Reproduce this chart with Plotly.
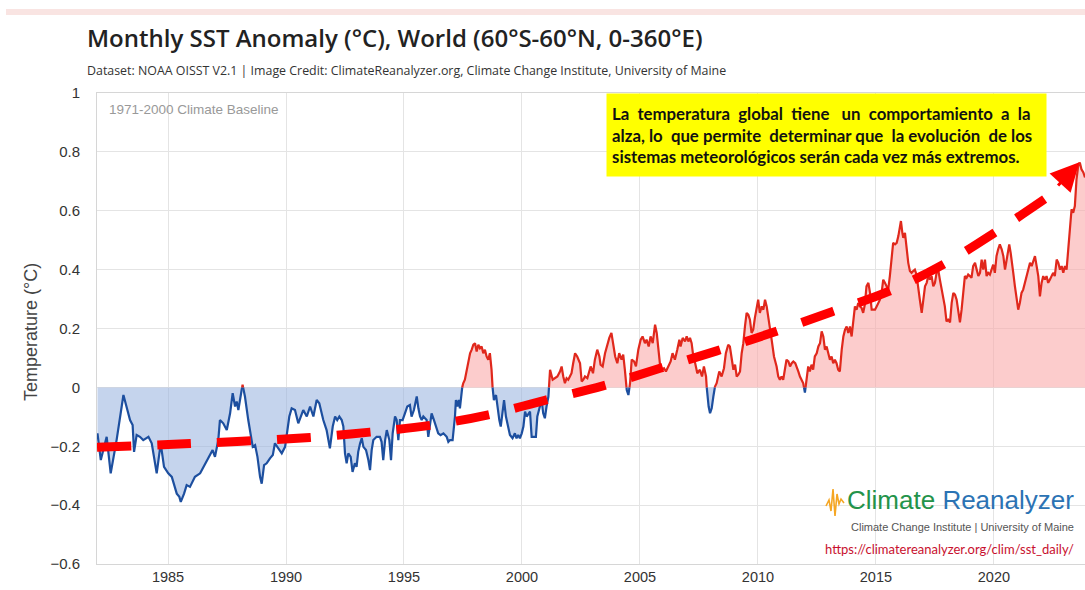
import numpy as np
import plotly.graph_objects as go

# ---------------- data ----------------
years = [
 1982.01,1982.15,1982.40,1982.57,1982.82,1983.11,1983.39,1983.50,1983.56,1983.67,1983.81,1983.95,
 1984.17,1984.31,1984.52,1984.69,1984.83,1985.01,1985.16,1985.37,1985.48,1985.54,1985.68,1985.79,
 1985.93,1986.14,1986.36,1986.50,1986.71,1986.89,1986.99,1987.13,1987.20,1987.34,1987.49,1987.63,
 1987.74,1987.84,1987.91,1987.98,1988.12,1988.16,1988.26,1988.40,1988.47,1988.59,1988.69,1988.79,
 1988.90,1988.97,1989.07,1989.18,1989.32,1989.44,1989.53,1989.82,1989.96,1990.14,1990.24,1990.38,
 1990.52,1990.73,1990.88,1991.02,1991.16,1991.30,1991.41,1991.58,1991.72,
 1991.86,1991.98,1992.08,1992.17,1992.26,1992.36,1992.43,1992.50,1992.57,1992.64,1992.74,1992.82,
 1992.92,1992.99,1993.06,1993.14,1993.21,1993.28,1993.39,1993.49,1993.56,1993.63,1993.70,1993.84,
 1993.98,1994.05,1994.12,1994.20,1994.27,1994.38,1994.45,1994.52,1994.62,1994.69,1994.76,1994.83,
 1994.94,1995.04,1995.14,1995.25,1995.32,1995.42,1995.54,1995.61,1995.68,1995.75,1995.82,1995.89,
 1995.96,1996.03,1996.10,1996.17,1996.27,1996.36,1996.45,1996.55,1996.67,1996.81,1996.88,1996.95,
 1997.06,1997.16,1997.20,1997.26,1997.32,1997.37,1997.44,1997.51,1997.58,1997.66,1997.73,1997.80,
 1997.87,1997.94,1998.01,1998.08,1998.15,1998.22,1998.29,1998.36,1998.43,1998.50,1998.57,1998.64,
 1998.71,1998.76,1998.81,1998.90,1998.95,1999.04,1999.10,1999.18,1999.24,1999.32,1999.42,1999.49,
 1999.60,1999.70,1999.77,1999.84,1999.91,1999.99,2000.06,2000.13,2000.20,2000.27,2000.34,2000.41,
 2000.51,2000.59,2000.65,2000.73,2000.83,2000.90,2000.97,2001.04,2001.12,2001.19,2001.30,2001.40,
 2001.50,2001.61,2001.68,2001.75,2001.82,2001.89,2001.96,2002.03,2002.10,2002.17,2002.25,2002.34,
 2002.46,
 2002.53,2002.60,2002.67,2002.77,2002.85,2002.91,2003.01,2003.09,2003.19,2003.28,2003.33,2003.42,
 2003.52,2003.62,2003.70,2003.79,2003.87,2003.95,2004.04,2004.12,2004.22,2004.29,2004.36,2004.44,
 2004.51,2004.58,2004.65,2004.75,2004.83,2004.93,2005.03,2005.11,2005.21,2005.28,2005.37,2005.45,
 2005.54,2005.64,2005.71,2005.78,2005.85,2005.92,2006.02,2006.10,2006.20,2006.30,2006.38,2006.48,
 2006.58,2006.67,2006.72,2006.81,2006.91,2006.98,2007.05,2007.12,2007.19,2007.26,2007.34,2007.43,
 2007.54,2007.63,2007.71,2007.80,2007.85,2007.91,2007.97,2008.04,2008.11,2008.18,2008.25,2008.36,
 2008.46,2008.56,2008.64,2008.74,2008.81,2008.88,2008.96,2009.03,2009.10,2009.17,2009.24,2009.31,
 2009.38,2009.45,2009.52,2009.59,2009.66,2009.73,2009.80,2009.87,2009.94,2010.01,2010.08,2010.16,
 2010.23,2010.30,2010.37,2010.44,2010.51,2010.58,2010.68,2010.79,2010.86,2010.93,2011.00,2011.07,
 2011.14,2011.21,2011.29,2011.36,2011.43,2011.50,2011.58,2011.64,2011.71,2011.78,2011.85,2011.92,
 2011.99,2012.06,2012.13,2012.20,2012.27,2012.34,2012.41,2012.49,2012.56,2012.63,
 2012.70,2012.77,2012.84,2012.91,2012.98,2013.05,2013.12,2013.19,2013.26,2013.33,2013.40,2013.47,
 2013.55,2013.62,2013.69,2013.76,2013.83,2013.90,2013.97,2014.04,2014.11,2014.18,2014.25,2014.32,
 2014.39,2014.46,2014.53,2014.60,2014.68,2014.75,2014.82,2014.89,2014.96,2015.03,2015.10,2015.17,
 2015.24,2015.31,2015.38,2015.45,2015.52,2015.59,2015.66,2015.73,2015.81,2015.88,2015.95,2016.02,
 2016.06,2016.12,2016.16,2016.23,2016.30,2016.37,2016.44,2016.51,2016.58,2016.65,2016.72,2016.79,
 2016.86,2016.94,2017.01,2017.08,2017.15,2017.22,2017.29,2017.36,2017.43,2017.50,2017.57,2017.64,
 2017.71,2017.78,2017.85,2017.92,2017.99,2018.06,2018.14,2018.21,2018.28,2018.35,2018.42,2018.49,
 2018.56,2018.63,2018.70,2018.77,2018.84,2018.91,2018.98,2019.05,2019.12,2019.20,2019.27,2019.34,
 2019.41,2019.48,2019.55,2019.62,2019.69,2019.76,2019.83,2019.90,2019.97,2020.04,2020.11,2020.18,
 2020.25,2020.33,2020.40,2020.47,2020.54,2020.61,2020.65,2020.71,2020.78,2020.82,2020.89,2020.96,
 2021.03,2021.10,2021.17,2021.24,2021.31,2021.38,2021.46,2021.53,2021.60,2021.67,2021.74,2021.81,
 2021.88,2021.95,2022.02,2022.09,2022.16,2022.23,2022.30,2022.37,2022.44,2022.51,2022.58,2022.66,
 2022.73,2022.80,2022.87,2022.94,2023.01,2023.08,2023.15,2023.22,2023.29,2023.36,2023.43,2023.50,
 2023.57,2023.64,2023.71,2023.79,2023.86,
]

anomaly = [
 -0.156,-0.247,-0.168,-0.292,-0.179,-0.026,-0.111,-0.128,-0.219,-0.162,-0.168,-0.179,
 -0.168,-0.190,-0.292,-0.190,-0.270,-0.292,-0.304,-0.361,-0.372,-0.389,-0.361,-0.332,
 -0.338,-0.304,-0.292,-0.270,-0.236,-0.213,-0.236,-0.179,-0.111,-0.122,-0.145,-0.088,
 -0.020,-0.065,-0.048,-0.077,-0.009,0.009,-0.031,-0.111,-0.145,-0.202,-0.196,-0.236,
 -0.304,-0.327,-0.264,-0.258,-0.241,-0.230,-0.190,-0.224,-0.202,-0.099,-0.071,-0.077,
 -0.122,-0.077,-0.099,-0.065,-0.099,-0.043,-0.054,-0.111,-0.145,
 -0.207,-0.133,-0.099,-0.111,-0.099,-0.111,-0.133,-0.224,-0.258,-0.224,-0.236,-0.287,
 -0.258,-0.270,-0.219,-0.190,-0.173,-0.202,-0.213,-0.247,-0.281,-0.213,-0.179,-0.168,
 -0.168,-0.185,-0.247,-0.179,-0.145,-0.179,-0.247,-0.156,-0.099,-0.111,-0.179,-0.111,
 -0.111,-0.088,-0.065,-0.060,-0.099,-0.077,-0.031,-0.071,-0.099,-0.111,-0.099,-0.105,
 -0.111,-0.168,-0.122,-0.088,-0.111,-0.133,-0.156,-0.162,-0.156,-0.168,-0.185,-0.179,
 -0.179,-0.099,-0.043,-0.065,-0.043,-0.071,-0.009,0.014,0.026,0.060,0.094,0.116,
 0.128,0.145,0.150,0.122,0.145,0.133,0.139,0.116,0.128,0.105,0.094,0.116,
 0.060,-0.009,-0.043,-0.026,-0.065,-0.111,-0.133,-0.077,-0.043,-0.099,-0.133,-0.162,
 -0.173,-0.156,-0.173,-0.162,-0.173,-0.156,-0.133,-0.082,-0.099,-0.088,-0.082,-0.168,
 -0.168,-0.168,-0.099,-0.077,-0.043,-0.088,-0.105,-0.065,-0.031,0.060,0.026,0.031,
 0.037,0.054,0.071,0.037,0.014,0.031,0.026,0.037,0.048,0.082,0.116,0.105,
 0.082,
 0.020,0.026,0.037,0.031,0.054,0.071,0.048,0.094,0.128,0.105,0.077,0.071,
 0.116,0.150,0.168,0.185,0.139,0.105,0.082,0.116,0.094,0.111,0.060,-0.009,
 -0.026,0.014,0.094,0.088,0.071,0.128,0.162,0.173,0.150,0.162,0.139,0.173,
 0.150,0.213,0.185,0.139,0.077,0.060,0.065,0.054,0.071,0.088,0.116,0.094,
 0.128,0.162,0.139,0.168,0.156,0.173,0.156,0.168,0.150,0.105,0.082,0.048,
 0.060,0.037,0.071,0.037,-0.026,-0.065,-0.088,-0.071,-0.031,0.003,0.014,0.054,
 0.037,0.065,0.116,0.145,0.139,0.105,0.060,0.077,0.037,0.043,0.054,0.116,
 0.150,0.207,0.253,0.247,0.230,0.185,0.196,0.236,0.275,0.298,0.253,0.275,
 0.264,0.298,0.275,0.241,0.207,0.162,0.105,0.071,0.037,0.026,0.037,0.026,
 0.060,0.094,0.088,0.071,0.082,0.088,0.082,0.071,0.054,0.037,0.026,0.014,
 -0.018,0.026,0.071,0.054,0.077,0.060,0.105,0.116,0.139,0.150,
 0.190,0.173,0.128,0.139,0.116,0.094,0.105,0.082,0.094,0.082,0.060,0.054,
 0.128,0.173,0.196,0.207,0.185,0.207,0.173,0.230,0.275,0.264,0.287,0.275,
 0.270,0.253,0.281,0.343,0.355,0.321,0.264,0.264,0.264,0.275,0.287,0.298,
 0.321,0.366,0.355,0.343,0.332,0.378,0.434,0.491,0.486,0.491,0.514,0.548,
 0.565,0.525,0.508,0.525,0.469,0.423,0.395,0.389,0.395,0.400,0.383,0.332,
 0.298,0.253,0.309,0.343,0.355,0.378,0.366,0.378,0.343,0.355,0.389,0.400,
 0.366,0.332,0.309,0.275,0.224,0.230,0.221,0.287,0.321,0.315,0.298,0.253,
 0.221,0.264,0.332,0.378,0.372,0.383,0.378,0.372,0.412,0.423,0.400,0.378,
 0.389,0.434,0.400,0.434,0.378,0.389,0.383,0.400,0.417,0.389,0.446,0.469,
 0.486,0.469,0.446,0.400,0.434,0.469,0.486,0.457,0.423,0.389,0.343,0.298,
 0.264,0.287,0.321,0.332,0.355,0.378,0.400,0.423,0.412,0.434,0.446,0.412,
 0.378,0.309,0.355,0.378,0.366,0.378,0.355,0.366,0.378,0.389,0.378,0.434,
 0.423,0.400,0.412,0.389,0.412,0.400,0.469,0.548,0.605,0.593,0.616,0.707,
 0.752,0.764,0.741,0.730,0.713,
]

# hand-drawn red trend arrow (centre line of the dashes)
trend_years = [1981.99, 1985.93, 1991.02, 1993.56, 1996.10, 1998.52, 2000.97, 2003.43,
               2005.85, 2008.26, 2010.72, 2013.14, 2015.51, 2017.84, 2020.04, 2022.25, 2023.62]
trend_values = [-0.203, -0.191, -0.170, -0.152, -0.129, -0.094, -0.044, 0.005,
                0.065, 0.124, 0.189, 0.257, 0.325, 0.417, 0.526, 0.645, 0.765]

x_ticks = [1985, 1990, 1995, 2000, 2005, 2010, 2015, 2020]
y_ticks = [-0.6, -0.4, -0.2, 0, 0.2, 0.4, 0.6, 0.8, 1]
y_tick_text = ["\u22120.6", "\u22120.4", "\u22120.2", "0", "0.2", "0.4", "0.6", "0.8", "1"]

note_lines = [
    "La temperatura global tiene un comportamiento a la",
    "alza, lo que permite determinar que la evolución de los",
    "sistemas meteorológicos serán cada vez más extremos.",
]

# ---------------- geometry helpers ----------------
W, H = 1085, 590
ML, MR, MT, MB = 97, 0, 93, 26


def px(xp):
    return (xp - ML) / (W - ML - MR)


def py(yp):
    return (H - MB - yp) / (H - MT - MB)


def spread(line, extra):
    # rough justification: distribute `extra` non-breaking spaces evenly over the word gaps
    words = line.split(" ")
    gaps = len(words) - 1
    pads = [0] * gaps
    for k in range(extra):
        pads[int((k + 0.5) * gaps / extra)] += 1
    out = words[0]
    for i, w in enumerate(words[1:]):
        out += " " + "\u00a0" * pads[i] + w
    return out


# split the series at zero crossings so the colours change exactly at 0
xa = np.array(years, dtype=float)
ya = np.array(anomaly, dtype=float)
xs, ys = [xa[0]], [ya[0]]
for i in range(1, len(xa)):
    y0, y1 = ya[i - 1], ya[i]
    if y0 != 0 and y1 != 0 and (y0 < 0) != (y1 < 0):
        t = y0 / (y0 - y1)
        xs.append(xa[i - 1] + t * (xa[i] - xa[i - 1]))
        ys.append(0.0)
    xs.append(xa[i])
    ys.append(y1)
xs = np.array(xs)
ys = np.array(ys)

BLUE_LINE = "#1d4f9f"
RED_LINE = "#e0281c"
BLUE_FILL = "rgba(150,176,222,0.55)"
RED_FILL = "rgba(250,170,170,0.6)"

fig = go.Figure()
fig.add_trace(go.Scatter(x=xs, y=np.minimum(ys, 0), mode="lines", line=dict(width=0),
                         fill="tozeroy", fillcolor=BLUE_FILL, hoverinfo="skip", showlegend=False))
fig.add_trace(go.Scatter(x=xs, y=np.maximum(ys, 0), mode="lines", line=dict(width=0),
                         fill="tozeroy", fillcolor=RED_FILL, hoverinfo="skip", showlegend=False))
fig.add_trace(go.Scatter(x=xs, y=np.where(ys <= 0, ys, np.nan), mode="lines",
                         line=dict(color=BLUE_LINE, width=2.2), connectgaps=False, showlegend=False))
fig.add_trace(go.Scatter(x=xs, y=np.where(ys >= 0, ys, np.nan), mode="lines",
                         line=dict(color=RED_LINE, width=2.2), connectgaps=False, showlegend=False))

# dashed trend arrow
fig.add_trace(go.Scatter(x=trend_years[:-1], y=trend_values[:-1], mode="lines",
                         line=dict(color="#ff0000", width=9, dash="34px,26px", shape="spline"),
                         hoverinfo="skip", showlegend=False))
tail_x = trend_years[-2] + 0.3 * (trend_years[-1] - trend_years[-2])
tail_y = trend_values[-2] + 0.3 * (trend_values[-1] - trend_values[-2])

note_text = "<br>".join([spread(note_lines[0], 8), spread(note_lines[1], 4), note_lines[2]])

annotations = [
    dict(x=trend_years[-1], y=trend_values[-1], ax=tail_x, ay=tail_y, xref="x", yref="y",
         axref="x", ayref="y", showarrow=True, arrowhead=2, arrowsize=1.9, arrowwidth=3,
         arrowcolor="#ff0000", standoff=0, text=""),
    dict(x=px(85), y=py(37), xref="paper", yref="paper", xanchor="left", yanchor="middle",
         showarrow=False, text="Monthly SST Anomaly (°C), World (60°S-60°N, 0-360°E)",
         font=dict(family="Open Sans", size=24, color="#222222", weight=600)),
    dict(x=px(85), y=py(70), xref="paper", yref="paper", xanchor="left", yanchor="middle",
         showarrow=False,
         text="Dataset: NOAA OISST V2.1 | Image Credit: ClimateReanalyzer.org, Climate Change Institute, University of Maine",
         font=dict(family="Open Sans", size=12.4, color="#333333")),
    dict(x=px(107), y=py(109), xref="paper", yref="paper", xanchor="left", yanchor="middle",
         showarrow=False, text="1971-2000 Climate Baseline",
         font=dict(family="Liberation Sans", size=13.5, color="#999999")),
    dict(x=px(31), y=py(332), xref="paper", yref="paper", xanchor="center", yanchor="middle",
         showarrow=False, text="Temperature (°C)", textangle=-90,
         font=dict(family="Liberation Sans", size=18, color="#444444")),
    dict(x=px(606), y=py(93), xref="paper", yref="paper", xanchor="left", yanchor="top",
         showarrow=False, align="left", valign="middle", width=429, height=72, borderpad=5,
         bgcolor="#ffff00", text=note_text,
         font=dict(family="Lato", size=16.8, color="#111111", weight="bold")),
    dict(x=px(1076), y=py(500), xref="paper", yref="paper", xanchor="right", yanchor="middle",
         showarrow=False,
         text="<span style='color:#23934a'>Climate</span> <span style='color:#2b73b4'>Reanalyzer</span>",
         font=dict(family="Liberation Sans", size=26)),
    dict(x=px(1076), y=py(527), xref="paper", yref="paper", xanchor="right", yanchor="middle",
         showarrow=False, text="Climate Change Institute | University of Maine",
         font=dict(family="Liberation Sans", size=11, color="#555555")),
    dict(x=px(1076), y=py(549), xref="paper", yref="paper", xanchor="right", yanchor="middle",
         showarrow=False, text="https://climatereanalyzer.org/clim/sst_daily/",
         font=dict(family="Lato", size=13, color="#c8102e")),
]

# small orange logo wave
wave = [(826, 506), (829, 500), (831, 511), (833, 489), (835, 516), (837, 494), (839, 504), (841, 499), (844, 503)]
wave_path = "M " + " L ".join(f"{px(a):.5f},{py(b):.5f}" for a, b in wave)

shapes = [
    dict(type="rect", xref="paper", yref="paper", x0=px(6), x1=px(1085), y0=py(15), y1=py(9),
         fillcolor="#f9e4e2", line=dict(width=0), layer="below"),
    dict(type="path", xref="paper", yref="paper", path=wave_path,
         line=dict(color="#f5a623", width=1.6)),
]

fig.update_layout(
    width=W, height=H,
    margin=dict(l=ML, r=MR, t=MT, b=MB, autoexpand=False),
    paper_bgcolor="white", plot_bgcolor="white",
    showlegend=False,
    annotations=annotations,
    shapes=shapes,
    xaxis=dict(range=[1981.99, 2023.86], tickvals=x_ticks, showgrid=True, gridcolor="#e4e4e4",
               gridwidth=1, zeroline=False, showline=True, linecolor="#d6d6d6", mirror=True,
               ticks="", tickfont=dict(family="Liberation Sans", size=14.5, color="#333333")),
    yaxis=dict(range=[-0.6, 1.0], tickvals=y_ticks, ticktext=y_tick_text, showgrid=True,
               gridcolor="#e4e4e4", gridwidth=1, zeroline=False, showline=True,
               linecolor="#d6d6d6", mirror=True, ticks="outside", ticklen=13,
               tickcolor="rgba(0,0,0,0)",
               tickfont=dict(family="Liberation Sans", size=15, color="#333333")),
)

fig.write_html("out.html", config={"displayModeBar": False},
               post_script="document.body.style.margin='0';document.body.style.overflow='hidden';")
